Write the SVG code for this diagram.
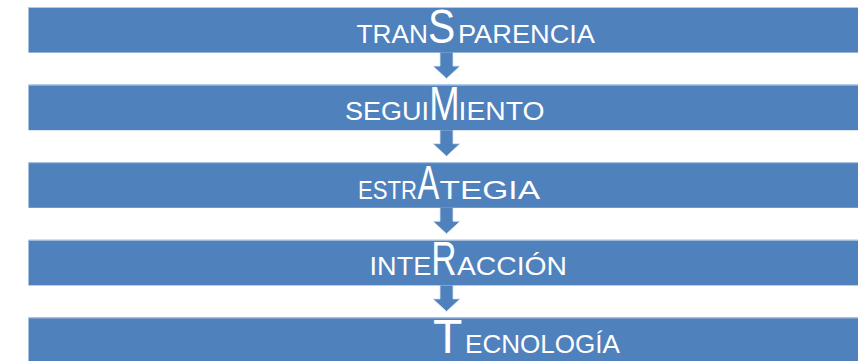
<svg xmlns="http://www.w3.org/2000/svg" width="858" height="361" viewBox="0 0 858 361">
<style>
.bar{fill:#4f81bd}
.edge{stroke:#b4c8e2;stroke-width:1}
.sm{font-family:"Liberation Sans",Arial,sans-serif;font-size:26px;fill:#ffffff}
.bg{font-family:"Liberation Sans",Arial,sans-serif;font-size:48px;fill:#ffffff}
.arr{fill:#4f81bd;stroke:#dce6f2;stroke-width:0.8}
</style>
<rect width="858" height="361" fill="#ffffff"/>
<g id="connectors">
<path class="arr" d="M440,52.6 V66.1 H433 L446.5,78.6 L460,66.1 H453 V52.6"/>
<path class="arr" d="M440,130.2 V143.7 H433 L446.5,156.2 L460,143.7 H453 V130.2"/>
<path class="arr" d="M440,207.8 V221.3 H433 L446.5,233.8 L460,221.3 H453 V207.8"/>
<path class="arr" d="M440,285.4 V298.9 H433 L446.5,311.4 L460,298.9 H453 V285.4"/>
</g>
<g id="n1">
<rect class="bar" x="28.5" y="7" width="830" height="45.6"/>
<line class="edge" x1="28.5" y1="7.5" x2="858" y2="7.5"/>
<text class="sm" x="356.5" y="42.8" textLength="71.5" lengthAdjust="spacingAndGlyphs">TRAN</text>
<text class="bg" font-size="44" transform="translate(428,42.8) scale(0.85,1)">S</text>
<text class="sm" x="458" y="42.8" textLength="137" lengthAdjust="spacingAndGlyphs">PARENCIA</text>
</g>
<g id="n2">
<rect class="bar" x="28.5" y="84.6" width="830" height="45.6"/>
<line class="edge" x1="28.5" y1="85.1" x2="858" y2="85.1"/>
<text class="sm" x="345" y="120.4" textLength="84" lengthAdjust="spacingAndGlyphs">SEGUI</text>
<text class="bg" transform="translate(429.3,120.4) scale(0.76,1)">M</text>
<text class="sm" x="458.6" y="120.4" textLength="86" lengthAdjust="spacingAndGlyphs">IENTO</text>
</g>
<g id="n3">
<rect class="bar" x="28.5" y="162.2" width="830" height="45.6"/>
<line class="edge" x1="28.5" y1="162.7" x2="858" y2="162.7"/>
<text class="sm" x="358" y="198.5" textLength="59" lengthAdjust="spacingAndGlyphs">ESTR</text>
<text class="bg" font-size="49" transform="translate(417.5,198.5) scale(0.68,1)">A</text>
<text class="sm" x="439.5" y="198.5" textLength="100.5" lengthAdjust="spacingAndGlyphs">TEGIA</text>
</g>
<g id="n4">
<rect class="bar" x="28.5" y="239.8" width="830" height="45.6"/>
<line class="edge" x1="28.5" y1="240.3" x2="858" y2="240.3"/>
<text class="sm" x="369.6" y="275.3" textLength="61.7" lengthAdjust="spacingAndGlyphs">INTE</text>
<text class="bg" font-size="49" transform="translate(431.2,275.3) scale(0.73,1)">R</text>
<text class="sm" x="457" y="275.3" textLength="110" lengthAdjust="spacingAndGlyphs">ACCIÓN</text>
</g>
<g id="n5">
<rect class="bar" x="28.5" y="317.4" width="830" height="45.6"/>
<line class="edge" x1="28.5" y1="317.9" x2="858" y2="317.9"/>
<text class="bg" font-size="50" transform="translate(432.9,353.3)">T</text>
<text class="sm" font-size="27" x="465" y="353.3" textLength="155" lengthAdjust="spacingAndGlyphs">ECNOLOGÍA</text>
</g>
</svg>
